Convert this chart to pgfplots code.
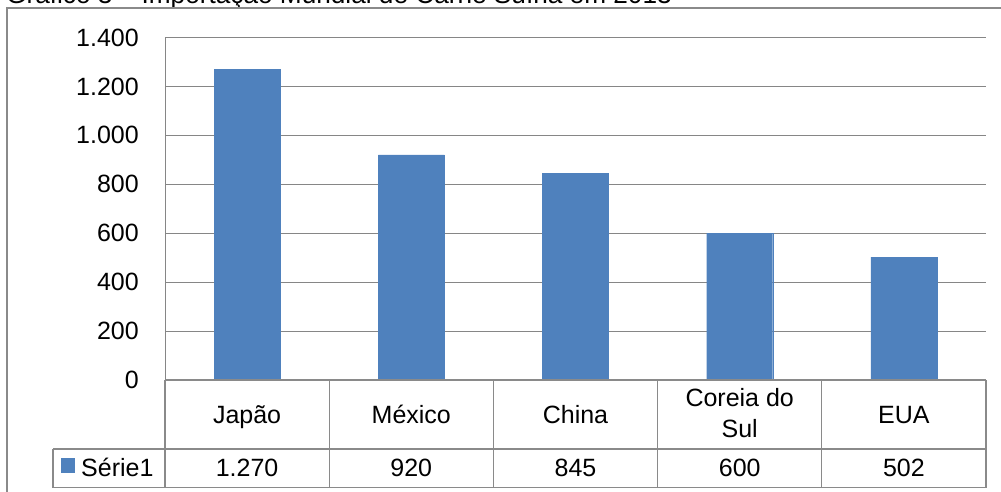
\documentclass[border=0pt]{standalone}
\usepackage{fontspec}
\setmainfont{Liberation Sans}
\usepackage{pgfplots}
\pgfplotsset{compat=1.18}
\definecolor{barblue}{HTML}{4F81BD}
\definecolor{gridgray}{HTML}{868686}
\definecolor{framegray}{HTML}{8A8A8A}
\newcommand\fnt{\fontsize{25bp}{30bp}\selectfont}
\begin{document}
\begin{tikzpicture}[font=\fnt]
\path[use as bounding box] (0bp,0bp) rectangle (1001bp,-492bp);
\clip (0bp,0bp) rectangle (1001bp,-492bp);
% title (cut off at the top, as in the reference)
\node[anchor=base west, inner sep=0pt, font=\fontsize{26.2bp}{31bp}\selectfont] at (6bp,-3.5bp) {Gráfico 3 – Importação Mundial de Carne Suína em 2013};
% outer frame
\draw[framegray, line width=1.5bp] (7bp,-600bp) -- (7bp,-8bp) -- (1010bp,-8bp);
\begin{axis}[
  at={(165bp,-380bp)}, anchor=south west,
  scale only axis, width=821bp, height=342.5bp,
  xmin=0.5, xmax=5.5, ymin=0, ymax=1400,
  ytick={0,200,...,1400},
  xtick={1,2,3,4,5}, xticklabels={},
  tick style={draw=none},
  ymajorgrids, grid style={gridgray, line width=1bp},
  axis x line*=bottom, axis y line*=left,
  axis line style={gridgray, line width=1bp, -},
  ticklabel style={font=\fnt},
  yticklabel style={anchor=east, inner sep=0pt, xshift=-26bp},
  /pgf/number format/.cd, 1000 sep={.}, assume math mode=true,
  ]
\addplot[ybar, bar width=66bp, bar shift=0pt, fill=barblue, draw=barblue]
  coordinates {(1,1270) (2,920) (3,845) (4,600) (5,502)};
\end{axis}
% data table
\begin{scope}[framegray, line width=1.2bp]
\draw (165bp,-380bp) -- (986bp,-380bp);
\draw (53bp,-449bp) -- (986bp,-449bp);
\draw (53bp,-487.5bp) -- (986bp,-487.5bp);
\draw (53bp,-449bp) -- (53bp,-487.5bp);
\foreach \xx in {165,329.2,493.4,657.6,821.8,986}
  \draw (\xx bp,-380bp) -- (\xx bp,-487.5bp);
\end{scope}
\node[anchor=base, inner sep=0pt] at (247.1bp,-423bp) {Japão};
\node[anchor=base, inner sep=0pt] at (411.3bp,-423bp) {México};
\node[anchor=base, inner sep=0pt] at (575.5bp,-423bp) {China};
\node[anchor=base, inner sep=0pt] at (739.7bp,-406.7bp) {Coreia do};
\node[anchor=base, inner sep=0pt] at (739.7bp,-437.3bp) {Sul};
\node[anchor=base, inner sep=0pt] at (903.9bp,-423bp) {EUA};
\fill[barblue] (61bp,-458bp) rectangle (75bp,-473bp);
\node[anchor=base west, inner sep=0pt] at (81bp,-476.7bp) {Série1};
\node[anchor=base, inner sep=0pt] at (247.1bp,-476.7bp) {1.270};
\node[anchor=base, inner sep=0pt] at (411.3bp,-476.7bp) {920};
\node[anchor=base, inner sep=0pt] at (575.5bp,-476.7bp) {845};
\node[anchor=base, inner sep=0pt] at (739.7bp,-476.7bp) {600};
\node[anchor=base, inner sep=0pt] at (903.9bp,-476.7bp) {502};
\end{tikzpicture}
\end{document}
